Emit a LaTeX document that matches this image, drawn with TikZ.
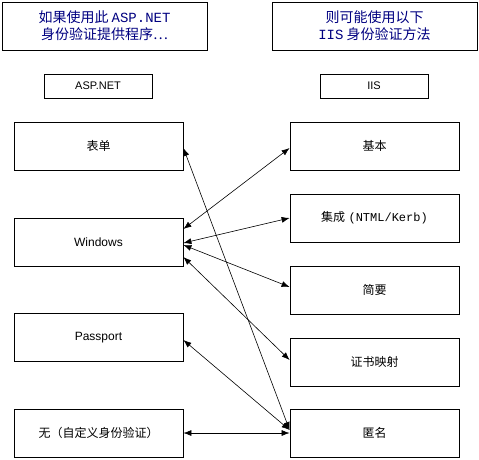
\documentclass[tikz,border=0pt]{standalone}
\usepackage{fontspec}
\setmainfont{Liberation Sans}
\setmonofont{Liberation Mono}
\newfontfamily\cjk{Noto Sans CJK SC}
\usepackage{tikz}
\usetikzlibrary{arrows,arrows.meta}
\definecolor{navy}{RGB}{0,0,128}

\begin{document}
\begin{tikzpicture}[x=1pt, y=-1pt, line width=0.8pt,
      title/.style={draw, rectangle, inner sep=0pt, minimum width=205pt, minimum height=48pt,
        align=center, text=navy, font=\cjk\fontsize{14}{17}\selectfont},
      head/.style={draw, rectangle, inner sep=0pt, minimum width=108pt, minimum height=24pt,
        font=\fontsize{11}{13}\selectfont},
      box/.style={draw, rectangle, inner sep=0pt, minimum width=169pt, minimum height=48pt,
        font=\fontsize{12}{14}\selectfont},
      link/.style={{Latex[length=8pt,width=6pt]}-{Latex[length=8pt,width=6pt]}, line width=0.6pt}]
    \useasboundingbox (0,0) rectangle (479,459);
    % headings
    \node[title] (askasp) at (104.5,26) {如果使用此 {\ttfamily ASP.NET}\\身份验证提供程序…};
    \node[title] (askiis) at (374.5,26) {则可能使用以下\\{\ttfamily IIS} 身份验证方法};
    \node[head] (asp) at (98,86) {ASP.NET};
    \node[head] (iis) at (374,86) {IIS};
    % ASP.NET providers
    \node[box] (forms) at (98.5,146) {\cjk 表单};
    \node[box] (win) at (98.5,242) {Windows};
    \node[box] (pass) at (98.5,337.5) {Passport};
    \node[box] (none) at (98.5,433) {{\cjk 无（自定义身份验证）}};
    % IIS methods
    \node[box] (basic) at (374.5,146) {\cjk 基本};
    \node[box] (integ) at (374.5,218) {{\cjk 集成} {\ttfamily (NTML/Kerb)}};
    \node[box] (digest) at (374.5,290) {\cjk 简要};
    \node[box] (cert) at (374.5,362) {\cjk 证书映射};
    \node[box] (anon) at (374.5,433) {\cjk 匿名};
    % links
    \draw[link] ([yshift=13pt]win.east) -- ([yshift=-2pt]basic.west);
    \draw[link] ([yshift=-1pt]win.east) -- (integ.west);
    \draw[link] ([yshift=-3pt]win.east) -- ([yshift=3pt]digest.west);
    \draw[link] ([yshift=-15pt]win.east) -- ([yshift=2pt]cert.west);
    \draw[link] ([yshift=-2pt]forms.east) -- ([yshift=3pt]anon.west);
    \draw[link] ([yshift=-2.5pt]pass.east) -- ([yshift=3pt]anon.west);
    \draw[link] (none.east) -- (anon.west);
\end{tikzpicture}
\end{document}
